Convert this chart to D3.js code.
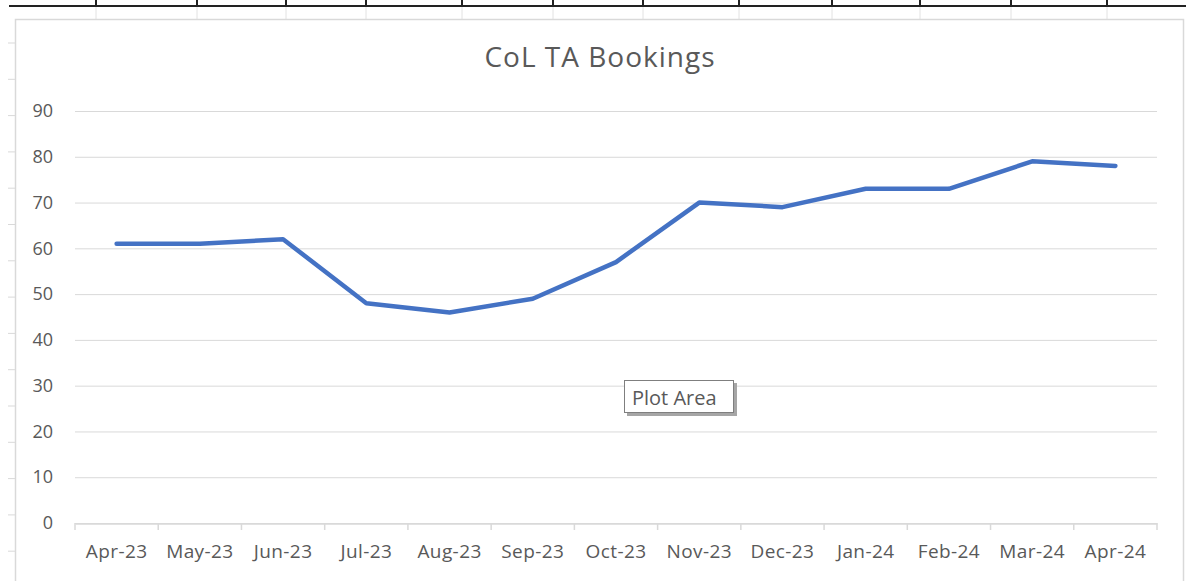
<!DOCTYPE html>
<html>
<head>
<meta charset="utf-8">
<script src="https://cdn.jsdelivr.net/npm/d3@7"></script>
<style>
  body { margin: 0; background: #fff; }
  svg { display: block; font-family: "Open Sans", "Noto Sans", sans-serif; }
</style>
</head>
<body>
<script>
const months = ["Apr-23", "May-23", "Jun-23", "Jul-23", "Aug-23", "Sep-23", "Oct-23",
  "Nov-23", "Dec-23", "Jan-24", "Feb-24", "Mar-24", "Apr-24"];
const bookings = [61, 61, 62, 48, 46, 49, 57, 70, 69, 73, 73, 79, 78];
const yTicks = [0, 10, 20, 30, 40, 50, 60, 70, 80, 90];
const sheetCols = [96, 197, 286, 366, 462, 553, 643, 739, 832, 920, 1011, 1107];

const w = 1186;
const h = 581;
const margin = { left: 75, right: 29, top: 111, bottom: 58 };
const font = "'Open Sans', 'Noto Sans', sans-serif";

const svg = d3.select("body").append("svg").attr("width", w).attr("height", h);

// spreadsheet behind the chart
svg.append("line").attr("x1", 9).attr("x2", w).attr("y1", 6).attr("y2", 6)
  .attr("stroke", "#222").attr("stroke-width", 2);
svg.selectAll(".col").data(sheetCols).enter().append("line")
  .attr("x1", (d) => d).attr("x2", (d) => d).attr("y1", 0).attr("y2", 6)
  .attr("stroke", "#222").attr("stroke-width", 2);
svg.selectAll(".colLight").data(sheetCols).enter().append("line")
  .attr("x1", (d) => d).attr("x2", (d) => d).attr("y1", 7).attr("y2", 19)
  .attr("stroke", "#e2e2e2").attr("stroke-width", 1);
svg.selectAll(".row").data(d3.range(15)).enter().append("line")
  .attr("x1", 8).attr("x2", 15)
  .attr("y1", (d) => 43 + d * 36.3).attr("y2", (d) => 43 + d * 36.3)
  .attr("stroke", "#d9d9d9");

// chart area
svg.append("rect").attr("x", 15.5).attr("y", 19.5).attr("width", 1168).attr("height", 600)
  .attr("fill", "#fff").attr("stroke", "#d9d9d9").attr("stroke-width", 1.5);

const x = d3.scaleBand().domain(months).range([margin.left, w - margin.right]);
const y = d3.scaleLinear().domain([0, 90]).range([523, margin.top]);

svg.append("text").attr("x", 600).attr("y", 67).attr("text-anchor", "middle")
  .attr("fill", "#595959").attr("font-size", 28).attr("letter-spacing", 1)
  .text("CoL TA Bookings");

// gridlines + y labels
const yAxis = svg.append("g").attr("transform", `translate(${margin.left},0)`)
  .call(d3.axisLeft(y).tickValues(yTicks).tickSize(-(w - margin.left - margin.right)).tickPadding(22))
  .attr("font-family", font);
yAxis.select(".domain").remove();
yAxis.selectAll(".tick line").attr("stroke", "#d9d9d9");
yAxis.selectAll(".tick text").attr("fill", "#595959").attr("font-size", 18);

// x axis
const xAxis = svg.append("g").attr("transform", "translate(0,523.5)")
  .call(d3.axisBottom(x).tickSize(0).tickPadding(21))
  .attr("font-family", font);
xAxis.select(".domain").attr("stroke", "#d9d9d9").attr("stroke-width", 1.5);
xAxis.selectAll(".tick text").attr("fill", "#595959").attr("font-size", 19)
  .attr("letter-spacing", 0.4);
const bounds = months.map((m) => x(m)).concat([w - margin.right]);
svg.selectAll(".xtick").data(bounds).enter().append("line")
  .attr("x1", (d) => d).attr("x2", (d) => d).attr("y1", 523).attr("y2", 530)
  .attr("stroke", "#d9d9d9").attr("stroke-width", 1.5);

// series line
const line = d3.line()
  .x((d, i) => x(months[i]) + x.bandwidth() / 2)
  .y((d) => y(d));
svg.append("path").datum(bookings).attr("d", line)
  .attr("fill", "none").attr("stroke", "#4472c4").attr("stroke-width", 4.5)
  .attr("stroke-linecap", "round").attr("stroke-linejoin", "round");

// "Plot Area" hover tip
const tip = svg.append("g").attr("transform", "translate(624,380)");
tip.append("rect").attr("x", 3).attr("y", 3).attr("width", 110).attr("height", 33).attr("fill", "#a6a6a6");
tip.append("rect").attr("x", 0.5).attr("y", 0.5).attr("width", 109).attr("height", 32)
  .attr("fill", "#fff").attr("stroke", "#7f7f7f");
tip.append("text").attr("x", 8).attr("y", 25).attr("fill", "#595959").attr("font-size", 20)
  .text("Plot Area");
</script>
</body>
</html>
